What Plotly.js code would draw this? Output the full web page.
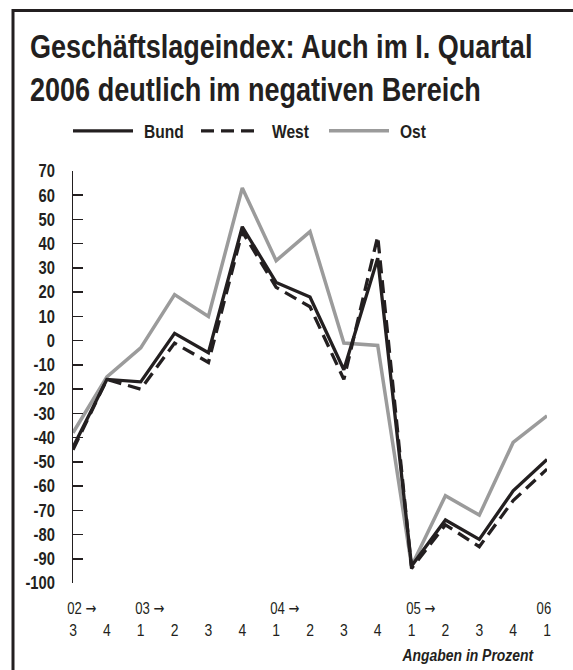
<!DOCTYPE html>
<html>
<head>
<meta charset="utf-8">
<script src="https://cdn.plot.ly/plotly-3.0.1.min.js"></script>
<style>
  html, body { margin: 0; padding: 0; background: #fff; }
  #chart { width: 573px; height: 670px; }
</style>
</head>
<body>
<div id="chart"></div>
<script>
// Quarters 2002 Q3 .. 2006 Q1
const quarterLabels = ["3","4","1","2","3","4","1","2","3","4","1","2","3","4","1"];
const yearLabels = ["02","03","04","05","06"];
const yearHasArrow = [true, true, true, true, false];
const yearPositions = [0, 2, 6, 10, 14];
const bund = [-44, -16, -17, 3, -5, 47, 24, 18, -12, 34, -93, -74, -82, -62, -49];
const west = [-45, -16, -20, -1, -9, 45, 22, 14, -16, 43, -94, -76, -85, -66, -53];
const ost  = [-38, -15, -3, 19, 10, 63, 33, 45, -1, -2, -93, -64, -72, -42, -31];
const yTicks = [70, 60, 50, 40, 30, 20, 10, 0, -10, -20, -30, -40, -50, -60, -70, -80, -90, -100];

const idx = quarterLabels.map((_, i) => i);
const FONT = '"Liberation Sans", Arial, sans-serif';
const SQUEEZE = 0.82;   // narrow (condensed) look of the original typeface
const INK = '#231f20';
const GREY = '#9b9b9b';

const traces = [
  { x: idx, y: ost, name: 'Ost', type: 'scatter', mode: 'lines',
    line: { color: GREY, width: 3.5 }, legendrank: 3 },
  { x: idx, y: west, name: 'West', type: 'scatter', mode: 'lines',
    line: { color: INK, width: 3.3, dash: '13px,7px' }, legendrank: 2 },
  { x: idx, y: bund, name: 'Bund', type: 'scatter', mode: 'lines',
    line: { color: INK, width: 3.3 }, legendrank: 1 }
];

const L = 73, R = 547, T = 171, B = 583;
const W = R - L, H = B - T;
const px = x => (x - L) / W;
const py = y => (B - y) / H;

const ARROW = '<span style="font-family:\'DejaVu Sans\'">\u2192</span>';
const annotations = yearLabels.map((t, k) => ({
  text: yearHasArrow[k] ? t + ' ' + ARROW : t, x: yearPositions[k], xref: 'x', y: py(608), yref: 'paper',
  xanchor: yearHasArrow[k] ? 'left' : 'center',
  xshift: yearHasArrow[k] ? -11 : -3,
  yanchor: 'middle', showarrow: false,
  font: { family: FONT, size: 16, color: INK }
}));
annotations.push({
  text: '<b><i>Angaben in Prozent</i></b>', x: px(551), xref: 'paper', xanchor: 'right',
  y: py(655), yref: 'paper', yanchor: 'middle', showarrow: false,
  font: { family: FONT, size: 17, color: INK }
});

const layout = {
  width: 573, height: 670,
  margin: { l: L, r: 573 - R, t: T, b: 670 - B, pad: 0 },
  paper_bgcolor: '#fff', plot_bgcolor: '#fff',
  title: {
    text: '<b>Geschäftslageindex: Auch im I. Quartal<br>2006 deutlich im negativen Bereich</b>',
    font: { family: FONT, size: 33, color: INK },
    x: 30 / 573, xref: 'container', xanchor: 'left',
    y: 1 - 58 / 670, yref: 'container', yanchor: 'top'
  },
  showlegend: true,
  legend: {
    orientation: 'h', xref: 'container', yref: 'container',
    x: 68 / 573, xanchor: 'left', y: 1 - 131 / 670, yanchor: 'middle',
    font: { family: FONT, size: 19, color: INK, weight: 'bold' },
    itemwidth: 60, entrywidth: 53, entrywidthmode: 'pixels',
    traceorder: 'normal', bgcolor: 'rgba(0,0,0,0)'
  },
  xaxis: {
    range: [0, 14], tickvals: idx, ticktext: quarterLabels,
    showline: false, ticks: '', showgrid: false, zeroline: false,
    tickfont: { family: FONT, size: 17, color: INK },
    ticklabelstandoff: 35, fixedrange: true
  },
  xaxis2: {
    overlaying: 'x', anchor: 'free', position: 100 / 170, side: 'bottom',
    range: [0, 14], tickvals: idx.slice(1), showticklabels: false,
    showline: true, linecolor: INK, linewidth: 1.5,
    ticks: 'outside', ticklen: 10, tickwidth: 1.5, tickcolor: INK,
    showgrid: false, zeroline: false, fixedrange: true
  },
  yaxis: {
    range: [-100, 70], tickvals: yTicks, ticktext: yTicks.map(String),
    showline: true, linecolor: INK, linewidth: 1.5,
    ticks: 'inside', ticklen: 10, tickwidth: 1.5, tickcolor: INK,
    showgrid: false, zeroline: false,
    tickfont: { family: FONT, size: 18, color: INK, weight: 'bold' },
    ticklabelstandoff: 13, fixedrange: true
  },
  shapes: [{
    type: 'path', xref: 'paper', yref: 'paper',
    path: `M ${px(13)},${py(700)} L ${px(13)},${py(10.5)} L ${px(600)},${py(10.5)}`,
    line: { color: INK, width: 3 }
  }],
  annotations: annotations
};

Plotly.newPlot('chart', traces, layout, { displayModeBar: false, staticPlot: true }).then(gd => {
  // squeeze glyphs horizontally around each text's own anchor to imitate a condensed face
  gd.querySelectorAll('svg text').forEach(t => {
    const x = parseFloat(t.getAttribute('x')) || 0;
    const prev = t.getAttribute('transform') || '';
    const dx = t.classList.contains('legendtext') ? 6 : 0;
    t.setAttribute('transform', `${prev} translate(${x + dx},0) scale(${SQUEEZE},1) translate(${-x},0)`);
  });
});
</script>
</body>
</html>
